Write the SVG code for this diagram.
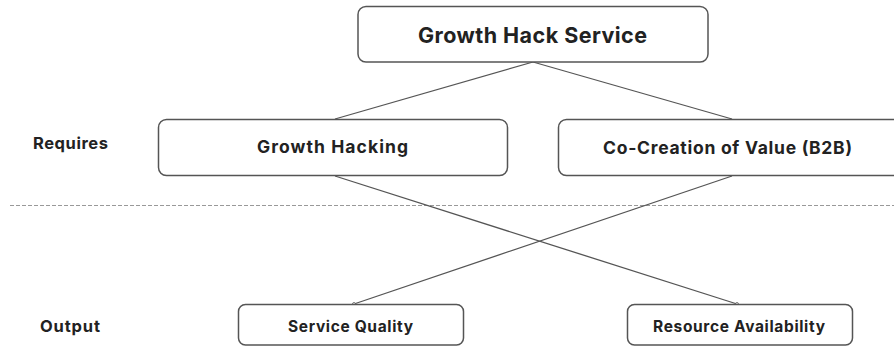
<svg xmlns="http://www.w3.org/2000/svg" width="894" height="349" viewBox="0 0 894 349">
<style>
.box{fill:#fff;stroke:#555;stroke-width:1.5}
.t{font-family:Inter,"Liberation Sans",sans-serif;font-weight:700;fill:#222;text-anchor:middle}
.lbl{font-family:Inter,"Liberation Sans",sans-serif;font-weight:700;fill:#222}
.edge{stroke:#555;stroke-width:1.3;fill:none}
.sep{stroke:#999;stroke-width:1;stroke-dasharray:4 2}
</style>
<defs>
<marker id="dot" viewBox="0 0 6 6" refX="3" refY="3" markerWidth="4" markerHeight="4" markerUnits="userSpaceOnUse">
<circle cx="3" cy="3" r="2.2" fill="#fff" stroke="#555" stroke-width="1.2"/>
</marker>
</defs>
<rect width="894" height="349" fill="#fff"/>
<line class="sep" x1="10" y1="205.5" x2="894" y2="205.5"/>
<text class="lbl" x="33" y="149" font-size="16.5" textLength="75" lengthAdjust="spacing">Requires</text>
<text class="lbl" x="40" y="332" font-size="16.5" textLength="60" lengthAdjust="spacing">Output</text>
<g id="connectors">
<line class="edge" x1="533" y1="62" x2="335" y2="119"/>
<line class="edge" x1="533" y1="62" x2="732" y2="119"/>
<line class="edge" x1="335" y1="176" x2="737" y2="304" marker-end="url(#dot)"/>
<line class="edge" x1="732" y1="176" x2="354" y2="304" marker-end="url(#dot)"/>
</g>
<g id="growth-hack-service">
<rect class="box" x="358" y="6.5" width="350" height="55.5" rx="8"/>
<text class="t" x="532.5" y="43" font-size="21.5" textLength="229" lengthAdjust="spacing">Growth Hack Service</text>
</g>
<g id="growth-hacking">
<rect class="box" x="158.5" y="119.5" width="349" height="56" rx="8"/>
<text class="t" x="332.5" y="153" font-size="17.5" textLength="151" lengthAdjust="spacing">Growth Hacking</text>
</g>
<g id="co-creation">
<rect class="box" x="558.5" y="119.5" width="350" height="56" rx="8"/>
<text class="t" x="727.5" y="153.5" font-size="17.5" textLength="249" lengthAdjust="spacing">Co-Creation of Value (B2B)</text>
</g>
<g id="service-quality">
<rect class="box" x="238.5" y="304.5" width="225" height="40.5" rx="7"/>
<text class="t" x="350.5" y="331.5" font-size="15.5" textLength="125" lengthAdjust="spacing">Service Quality</text>
</g>
<g id="resource-availability">
<rect class="box" x="627.5" y="304.5" width="225" height="40.5" rx="7"/>
<text class="t" x="739" y="331.5" font-size="15.5" textLength="172" lengthAdjust="spacing">Resource Availability</text>
</g>
</svg>
